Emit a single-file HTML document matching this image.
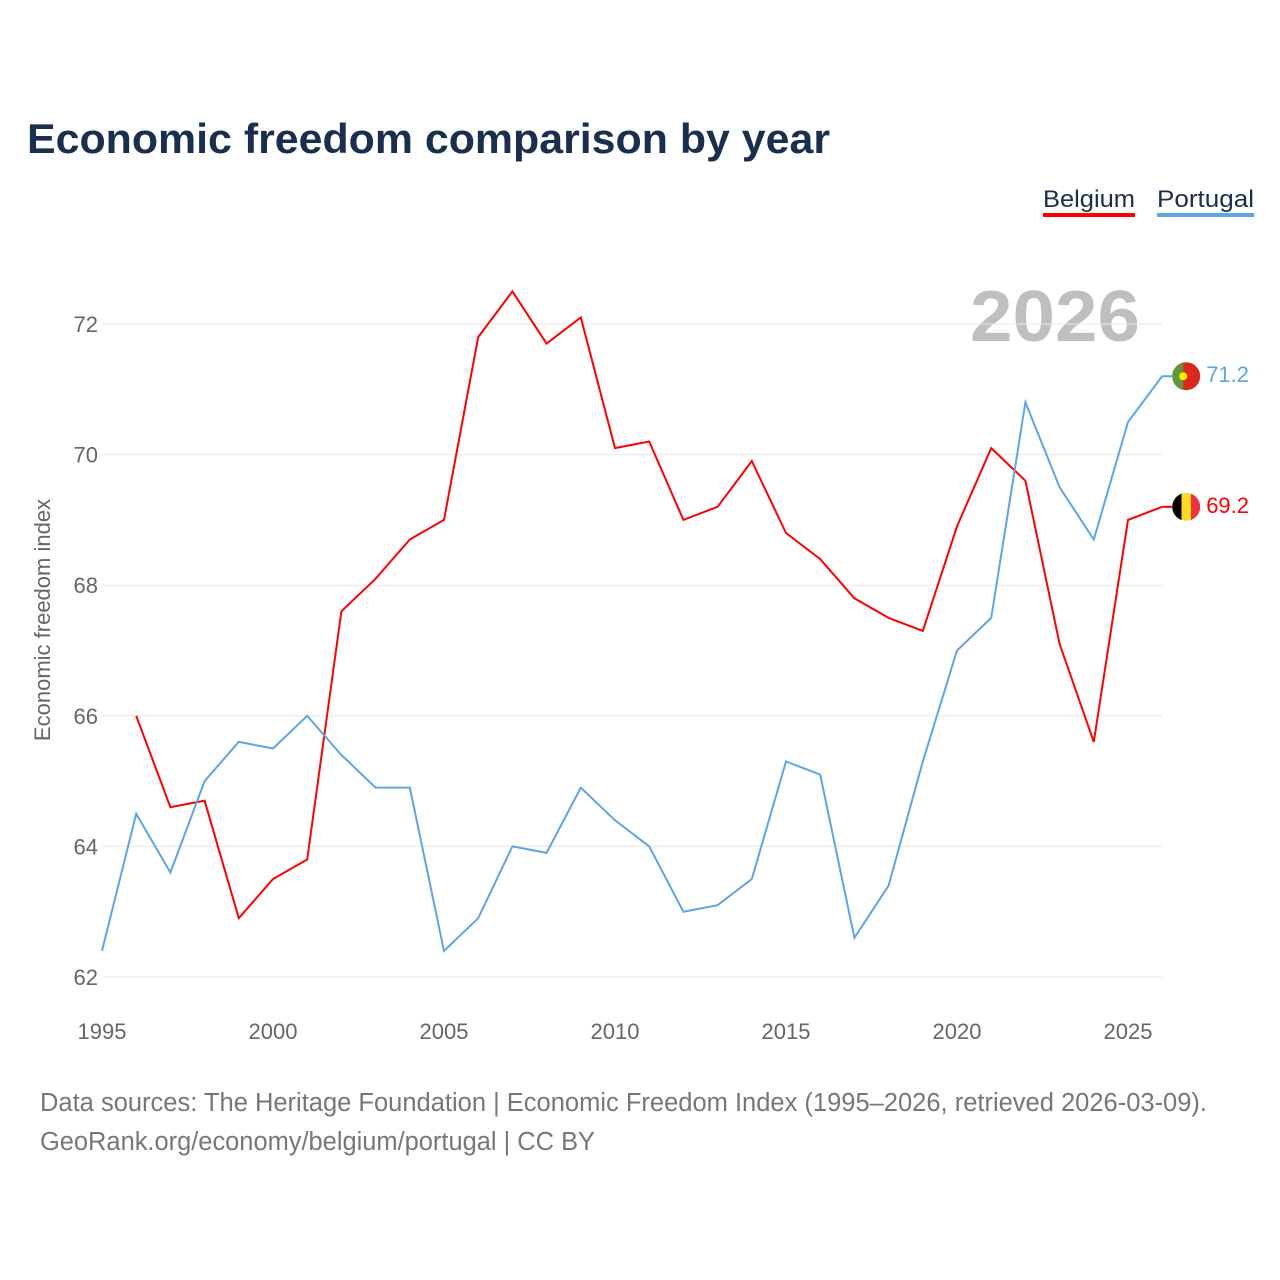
<!DOCTYPE html>
<html><head><meta charset="utf-8">
<style>
body{margin:0;background:#fff;font-family:"Liberation Sans",sans-serif;}
#wrap{position:relative;width:1280px;height:1280px;overflow:hidden;}
</style></head>
<body>
<div id="wrap">
<svg id="chart" width="1280" height="1280">
<defs>
<clipPath id="cb"><circle id="cbc" cx="0" cy="0" r="14"/></clipPath>
<clipPath id="cp"><circle id="cpc" cx="0" cy="0" r="14"/></clipPath>
</defs>
<text x="27" y="153" font-size="42" font-weight="bold" fill="#1a2e4f" textLength="803" lengthAdjust="spacingAndGlyphs">Economic freedom comparison by year</text>
<g>
<text x="1043" y="207" font-size="24" fill="#1a2e4f" textLength="92" lengthAdjust="spacingAndGlyphs">Belgium</text>
<rect x="1043" y="213" width="92" height="4" fill="#ff0000"/></g>
<g>
<text x="1157" y="207" font-size="24" fill="#1a2e4f" textLength="97" lengthAdjust="spacingAndGlyphs">Portugal</text>
<rect x="1157" y="213" width="97" height="4" fill="#5ba6ea"/></g>
<text x="1140" y="341" text-anchor="end" font-size="72" font-weight="bold" fill="#bfbfbf" textLength="170" lengthAdjust="spacingAndGlyphs">2026</text>
<text transform="translate(50,620) rotate(-90)" text-anchor="middle" font-size="22" fill="#666">Economic freedom index</text>
<g id="grid"></g><g id="ticks"></g><g id="lines"></g><g id="ends"></g>
<text x="40" y="1111" font-size="25.5" fill="#777" textLength="1167" lengthAdjust="spacingAndGlyphs">Data sources: The Heritage Foundation | Economic Freedom Index (1995–2026, retrieved 2026-03-09).</text>
<text x="40" y="1150" font-size="25.5" fill="#777" textLength="555" lengthAdjust="spacingAndGlyphs">GeoRank.org/economy/belgium/portugal | CC BY</text>
</svg>
</div>
<script>
const years=[1995,1996,1997,1998,1999,2000,2001,2002,2003,2004,2005,2006,2007,2008,2009,2010,2011,2012,2013,2014,2015,2016,2017,2018,2019,2020,2021,2022,2023,2024,2025,2026];
const belgium=[null,66.0,64.6,64.7,62.9,63.5,63.8,67.6,68.1,68.7,69.0,71.8,72.5,71.7,72.1,70.1,70.2,69.0,69.2,69.9,68.8,68.4,67.8,67.5,67.3,68.9,70.1,69.6,67.1,65.6,69.0,69.2];
const portugal=[62.4,64.5,63.6,65.0,65.6,65.5,66.0,65.4,64.9,64.9,62.4,62.9,64.0,63.9,64.9,64.4,64.0,63.0,63.1,63.5,65.3,65.1,62.6,63.4,65.3,67.0,67.5,70.8,69.5,68.7,70.5,71.2];
const yTicks=[62,64,66,68,70,72];
const xTicks=[1995,2000,2005,2010,2015,2020,2025];
const NS="http://www.w3.org/2000/svg";
const x=v=>102+(v-1995)*34.2;
const y=v=>977-(v-62)*65.3;
function el(t,a,p){const e=document.createElementNS(NS,t);for(const k in a)e.setAttribute(k,a[k]);document.getElementById(p).appendChild(e);return e;}
yTicks.forEach(t=>{
 const g=el('line',{x1:102,x2:1162,y1:y(t),y2:y(t),stroke:'#e8e8e8','stroke-width':1},'grid');
 
 
 const l=el('text',{x:98,y:y(t)+8,'text-anchor':'end','font-size':22,fill:'#666'},'ticks');
 l.textContent=t;
 
 
});
xTicks.forEach(t=>{
 const l=el('text',{x:x(t),y:1039,'text-anchor':'middle','font-size':22,fill:'#666'},'ticks');
 l.textContent=t;
 
 
});
function line(vals,color,name){
 let d='';vals.forEach((v,i)=>{if(v==null)return;d+=(d?'L':'M')+x(years[i]).toFixed(1)+','+y(v).toFixed(1);});
 const p=el('path',{d:d,fill:'none',stroke:color,'stroke-width':2},'lines');
 
 
 const last=vals[vals.length-1],lx=x(years[years.length-1]);
 const ln=el('line',{x1:lx,x2:lx+10,y1:y(last),y2:y(last),stroke:color,'stroke-width':2},'ends');
 
 
 const t=el('text',{x:lx+44,y:y(last)+6,'font-size':22,fill:color},'ends');
 t.textContent=last.toFixed(1);
 
 
 return lx;
}
const lx=line(belgium,'#ff0000','belgium');
line(portugal,'#5ba6ea','portugal');
const cx=lx+24;
const by=y(belgium[belgium.length-1]);
document.getElementById('cbc').setAttribute('cx',cx);
document.getElementById('cbc').setAttribute('cy',by);
const bg=el('g',{'clip-path':'url(#cb)'},'ends');


[['#000',0],['#fdda24',1],['#ef3340',2]].forEach(s=>{
 const r=document.createElementNS(NS,'rect');
 r.setAttribute('x',cx-14+s[1]*9.34);r.setAttribute('y',by-14);r.setAttribute('width',9.4);r.setAttribute('height',28);r.setAttribute('fill',s[0]);
 bg.appendChild(r);
});
const py=y(portugal[portugal.length-1]);
document.getElementById('cpc').setAttribute('cx',cx);
document.getElementById('cpc').setAttribute('cy',py);
const pgg=el('g',{'clip-path':'url(#cp)'},'ends');


const r1=document.createElementNS(NS,'rect');
r1.setAttribute('x',cx-14);r1.setAttribute('y',py-14);r1.setAttribute('width',28);r1.setAttribute('height',28);r1.setAttribute('fill','#da291c');
pgg.appendChild(r1);
const r2=document.createElementNS(NS,'rect');
r2.setAttribute('x',cx-14);r2.setAttribute('y',py-14);r2.setAttribute('width',11);r2.setAttribute('height',28);r2.setAttribute('fill','#5a9a3a');
pgg.appendChild(r2);
const pc=document.createElementNS(NS,'circle');
pc.setAttribute('cx',cx-3);pc.setAttribute('cy',py);pc.setAttribute('r',4);pc.setAttribute('fill','#ffe900');
pgg.appendChild(pc);
</script>
</body></html>
